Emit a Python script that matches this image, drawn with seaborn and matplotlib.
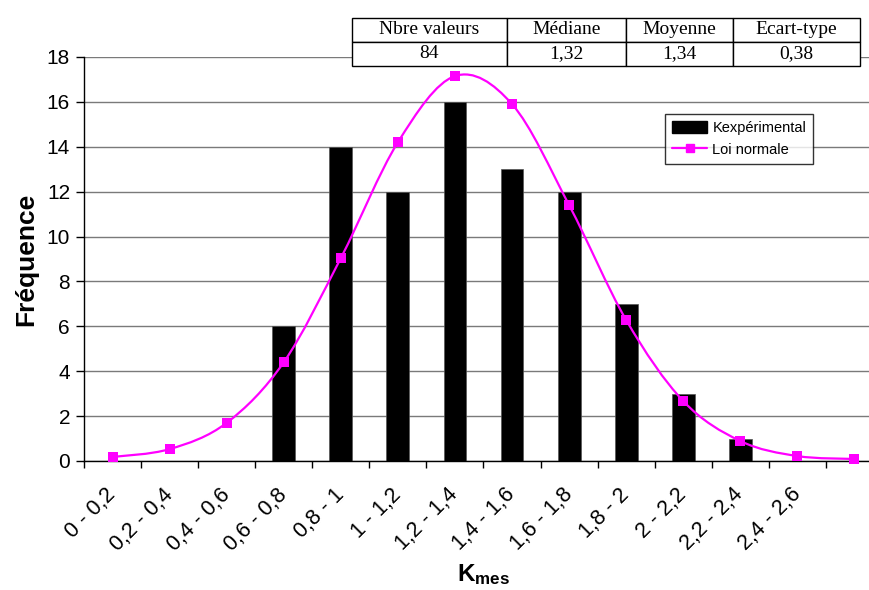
import numpy as np
import pandas as pd
import seaborn as sns
import matplotlib.pyplot as plt
from matplotlib.path import Path
from matplotlib.patches import PathPatch, Patch
from matplotlib.lines import Line2D
from matplotlib.transforms import ScaledTranslation

# ------- data -------
categories = ['0 - 0,2', '0,2 - 0,4', '0,4 - 0,6', '0,6 - 0,8', '0,8 - 1', '1 - 1,2',
              '1,2 - 1,4', '1,4 - 1,6', '1,6 - 1,8', '1,8 - 2', '2 - 2,2', '2,2 - 2,4',
              '2,4 - 2,6', '']
freq_exp = [0, 0, 0, 6, 14, 12, 16, 13, 12, 7, 3, 1, 0, 0]
loi_normale = [0.18, 0.53, 1.7, 4.4, 9.04, 14.2, 17.15, 15.9, 11.4, 6.28, 2.67, 0.89, 0.22, 0.09]

table_cols = ['Nbre valeurs', 'Médiane', 'Moyenne', 'Ecart-type']
table_vals = ['84', '1,32', '1,34', '0,38']

sns.set_theme(style='white')
plt.rcParams['font.family'] = ['Liberation Sans', 'DejaVu Sans']
plt.rcParams['mathtext.fontset'] = 'custom'
plt.rcParams['mathtext.rm'] = 'Liberation Sans'
plt.rcParams['mathtext.bf'] = 'Liberation Sans:bold'
for k in ['text.color', 'axes.labelcolor', 'xtick.color', 'ytick.color']:
    plt.rcParams[k] = 'black'

df = pd.DataFrame({'cat': categories, 'freq': freq_exp, 'normal': loi_normale})
df['pos'] = np.arange(len(df))

fig = plt.figure(figsize=(8.7, 5.9), dpi=100)
W, H = 870, 590
ax = fig.add_axes([84 / W, (H - 461) / H, 799 / W, 404 / H])

# bars
sns.barplot(data=df, x='pos', y='freq', color='black', width=0.4,
            saturation=1, edgecolor='#555555', linewidth=0.5, ax=ax, zorder=2)

# smoothed normal curve (bezier through the points, like Excel's smoothed line)
xs = df['pos'].to_numpy(dtype=float)
ys = df['normal'].to_numpy(dtype=float)
verts = [(xs[0], ys[0])]
codes = [Path.MOVETO]
n = len(xs)
for i in range(n - 1):
    p0 = np.array([xs[max(i - 1, 0)], ys[max(i - 1, 0)]])
    p1 = np.array([xs[i], ys[i]])
    p2 = np.array([xs[i + 1], ys[i + 1]])
    p3 = np.array([xs[min(i + 2, n - 1)], ys[min(i + 2, n - 1)]])
    c1 = p1 + (p2 - p0) / 6
    c2 = p2 - (p3 - p1) / 6
    verts += [tuple(c1), tuple(c2), tuple(p2)]
    codes += [Path.CURVE4] * 3
ax.add_patch(PathPatch(Path(verts, codes), facecolor='none', edgecolor='#FF00FF',
                       linewidth=1.6, zorder=3, clip_on=False))
sns.scatterplot(x=xs, y=ys, marker='s', color='#FF00FF', s=50, linewidth=0,
                ax=ax, zorder=4, clip_on=False)

# axes styling
ax.set_xlim(-0.5, 13.5)
ax.set_ylim(0, 18)
ax.set_yticks(np.arange(0, 19, 2))
ax.yaxis.grid(True, color='#7a7a7a', linewidth=1)
ax.set_axisbelow(True)
for s in ['top', 'right']:
    ax.spines[s].set_visible(False)
for s in ['left', 'bottom']:
    ax.spines[s].set_color('black')
    ax.spines[s].set_linewidth(1)

ax.set_xticks(xs)
ax.set_xticklabels(categories, rotation=45, ha='right', va='center',
                   rotation_mode='anchor', fontsize=15.5)
shift = ScaledTranslation(-0.07, 0, fig.dpi_scale_trans)
for lab in ax.get_xticklabels():
    lab.set_transform(lab.get_transform() + shift)
ax.set_xticks(np.arange(-0.5, 13.6, 1), minor=True)
ax.tick_params(axis='x', which='major', length=0, pad=22)
ax.tick_params(axis='x', which='minor', length=5, width=1, color='black', bottom=True)
ax.tick_params(axis='y', length=6, width=1, color='black', left=True, labelsize=15, pad=4)

ax.set_xlabel(r'$\mathbf{K_{mes}}$', fontsize=17.5, labelpad=5)
ax.set_ylabel('Fréquence', fontsize=19, fontweight='bold', labelpad=6)

# legend
handles = [Patch(facecolor='black', edgecolor='black'),
           Line2D([], [], color='#FF00FF', linewidth=1.6, marker='s', markersize=6)]
leg = ax.legend(handles, ['Kexpérimental', 'Loi normale'], loc='upper left',
                bbox_to_anchor=(0.727, 0.86), fontsize=10.5, frameon=True,
                fancybox=False, borderpad=0.5, handlelength=2.4, handleheight=0.9,
                handletextpad=0.35, labelspacing=0.55, borderaxespad=0)
leg.get_frame().set_edgecolor('black')
leg.get_frame().set_linewidth(1)

# statistics table at the top
widths = np.array([155, 119, 107, 127], dtype=float)
tab = ax.table(cellText=[table_vals], colLabels=table_cols,
               colWidths=list(widths / widths.sum()), cellLoc='center',
               bbox=[(352 - 84) / 799, (461 - 66) / 404, 508 / 799, 48 / 404])
tab.auto_set_font_size(False)
for cell in tab.get_celld().values():
    cell.set_facecolor('white')
    cell.set_edgecolor('black')
    cell.set_linewidth(1)
    cell.get_text().set_fontfamily('Liberation Serif')
    cell.get_text().set_fontsize(14)
tab.set_zorder(5)
tab.set_clip_on(False)

fig.savefig('out.png', dpi=100)
